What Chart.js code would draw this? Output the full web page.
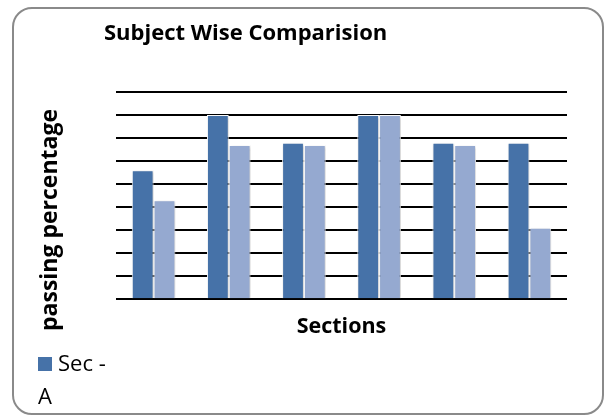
<!DOCTYPE html>
<html>
<head>
<meta charset="utf-8">
<script src="https://cdn.jsdelivr.net/npm/chart.js@4/dist/chart.umd.min.js"></script>
<style>
  body { margin: 0; background: #fff; font-family: "Open Sans", sans-serif; }
  #wrap { position: relative; width: 607px; height: 418px; overflow: hidden; }
  #frame {
    position: absolute; left: 12px; top: 7px; width: 592px; height: 408px;
    border: 2px solid #8a8a8a; border-radius: 20px; box-sizing: border-box;
  }
  canvas { position: absolute; left: 0; top: 0; }
  #title {
    position: absolute; left: 104px; top: 16px; font-weight: bold; font-size: 22px; color: #000;
  }
  #ytitle {
    position: absolute; left: 48px; top: 220px; font-weight: bold; font-size: 23px; color: #000;
    transform: translate(-50%, -50%) rotate(-90deg); white-space: nowrap;
  }
  #legend { position: absolute; left: 38px; top: 346px; font-size: 22px; line-height: 33px; color: #000; }
  #legend .box { display: inline-block; width: 14px; height: 14px; background: #4672a8; margin-right: 6px; }
</style>
</head>
<body>
<div id="wrap">
  <canvas id="chart" width="607" height="418"></canvas>
  <div id="frame"></div>
  <div id="title">Subject Wise Comparision</div>
  <div id="ytitle">passing percentage</div>
  <div id="legend"><span class="box"></span>Sec -<br>A</div>
</div>
<script>
// six sections, labels not shown in the picture
const sections = ["", "", "", "", "", ""];
const secA = [56, 80, 68, 80, 68, 68];
const secB = [43, 67, 67, 80, 67, 31];

// soft shadow behind bars
const barShadow = {
  id: "barShadow",
  beforeDatasetsDraw(chart) {
    const ctx = chart.ctx;
    ctx.save();
    ctx.shadowColor = "rgba(0,0,0,0.25)";
    ctx.shadowBlur = 3;
    ctx.shadowOffsetX = 1;
    ctx.shadowOffsetY = 1;
  },
  afterDatasetsDraw(chart) {
    chart.ctx.restore();
  }
};

new Chart(document.getElementById("chart").getContext("2d"), {
  type: "bar",
  data: {
    labels: sections,
    datasets: [
      { label: "Sec - A", data: secA, backgroundColor: "#4672a8", borderColor: "#ffffff", borderWidth: 1 },
      { label: "Sec - B", data: secB, backgroundColor: "#95a9d0", borderColor: "#ffffff", borderWidth: 1 }
    ]
  },
  options: {
    responsive: false,
    animation: false,
    layout: { padding: { left: 116, right: 40, top: 92, bottom: 78 } },
    datasets: { bar: { categoryPercentage: 0.58, barPercentage: 1 } },
    plugins: { legend: { display: false }, tooltip: { enabled: false } },
    scales: {
      x: {
        grid: { display: false },
        border: { display: false },
        ticks: { display: false },
        title: {
          display: true, text: "Sections", color: "#000",
          font: { family: "Open Sans", size: 21.5, weight: "bold" },
          padding: { top: 7, bottom: 0 }
        }
      },
      y: {
        min: 0, max: 90,
        ticks: { display: false, stepSize: 10 },
        grid: { color: "#000", lineWidth: 2, drawTicks: false },
        border: { display: false }
      }
    }
  },
  plugins: [barShadow]
});
</script>
</body>
</html>
